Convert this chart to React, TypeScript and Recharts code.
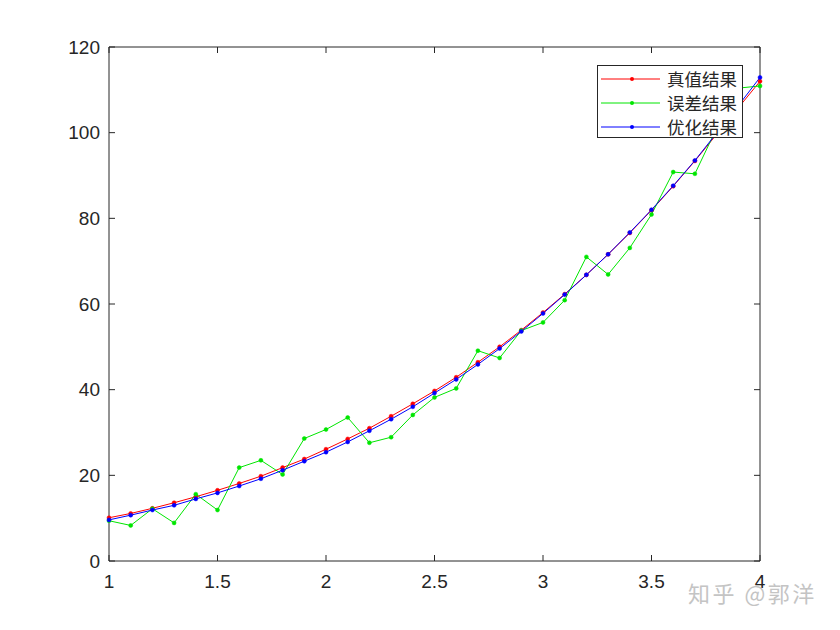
import { Line, LineChart, ReferenceLine, XAxis, YAxis } from "recharts";

const xValues = [
    1.0, 1.1, 1.2, 1.3, 1.4, 1.5, 1.6, 1.7, 1.8, 1.9,
    2.0, 2.1, 2.2, 2.3, 2.4, 2.5, 2.6, 2.7, 2.8, 2.9,
    3.0, 3.1, 3.2, 3.3, 3.4, 3.5, 3.6, 3.7, 3.8, 3.9, 4.0,
];

// 真值结果
const trueValues = [
    10.1, 11.1, 12.3, 13.6, 15.0, 16.5, 18.1, 19.8, 21.8, 23.8,
    26.1, 28.5, 31.0, 33.8, 36.7, 39.7, 42.9, 46.4, 50.0, 53.9,
    58.0, 62.3, 66.8, 71.6, 76.6, 81.9, 87.5, 93.4, 99.6, 105.8, 112.0,
];

// 误差结果
const noisyValues = [
    9.4, 8.3, 12.2, 8.9, 15.6, 11.9, 21.8, 23.5, 20.2, 28.6,
    30.7, 33.5, 27.6, 28.9, 34.1, 38.2, 40.3, 49.1, 47.4, 53.8,
    55.7, 60.9, 71.0, 66.9, 73.1, 80.9, 90.8, 90.4, 101.0, 110.4, 110.9,
];

// 优化结果
const fittedValues = [
    9.6, 10.7, 11.9, 13.0, 14.5, 15.9, 17.5, 19.2, 21.2, 23.3,
    25.4, 27.8, 30.4, 33.1, 36.0, 39.2, 42.4, 45.9, 49.6, 53.6,
    57.8, 62.2, 66.8, 71.6, 76.7, 82.0, 87.6, 93.5, 99.9, 106.3, 112.9,
];

const xTicks = [1, 1.5, 2, 2.5, 3, 3.5, 4];
const yTicks = [0, 20, 40, 60, 80, 100, 120];

const series = [
    { key: "trueV", name: "真值结果", color: "#ff0000" },
    { key: "noisy", name: "误差结果", color: "#00e600" },
    { key: "fitted", name: "优化结果", color: "#0000ff" },
];

const AXIS = "#262626";
const TICK_LEN = 6;
const tickFont = { fill: AXIS, fontSize: 19, fontFamily: "'Liberation Sans', Arial, sans-serif" };

const data = xValues.map((x, i) => ({
    x,
    trueV: trueValues[i],
    noisy: noisyValues[i],
    fitted: fittedValues[i],
}));

// inward tick marks on top and bottom edge of the box
function VerticalTicks(props: any) {
    const { x1, y1, y2 } = props;
    const top = Math.min(y1, y2);
    const bottom = Math.max(y1, y2);
    return (
        <g>
            <line x1={x1} y1={bottom} x2={x1} y2={bottom - TICK_LEN} stroke={AXIS} />
            <line x1={x1} y1={top} x2={x1} y2={top + TICK_LEN} stroke={AXIS} />
        </g>
    );
}

// inward tick marks on left and right edge of the box
function HorizontalTicks(props: any) {
    const { x1, x2, y1 } = props;
    const left = Math.min(x1, x2);
    const right = Math.max(x1, x2);
    return (
        <g>
            <line x1={left} y1={y1} x2={left + TICK_LEN} y2={y1} stroke={AXIS} />
            <line x1={right} y1={y1} x2={right - TICK_LEN} y2={y1} stroke={AXIS} />
        </g>
    );
}

function LegendBox() {
    return (
        <div
            style={{
                position: "absolute",
                left: 597,
                top: 65,
                width: 146,
                height: 73,
                boxSizing: "border-box",
                border: `1px solid ${AXIS}`,
                background: "#fff",
                fontFamily: "'Noto Sans CJK SC', sans-serif",
                fontSize: 17.5,
                color: AXIS,
                paddingTop: 1,
            }}
        >
            {series.map(s => (
                <div key={s.key} style={{ display: "flex", alignItems: "center", height: 24, lineHeight: "24px" }}>
                    <svg width={69} height={24} style={{ flex: "none" }}>
                        <line x1={3} y1={12} x2={62} y2={12} stroke={s.color} strokeWidth={1} />
                        <circle cx={34} cy={12} r={2} fill={s.color} />
                    </svg>
                    <span style={{ whiteSpace: "nowrap" }}>{s.name}</span>
                </div>
            ))}
        </div>
    );
}

export default function App() {
    return (
        <div style={{ position: "absolute", left: 0, top: 0, width: 840, height: 630, background: "#fff" }}>
            <LineChart width={840} height={630} data={data} margin={{ top: 47, right: 80, bottom: 0, left: 0 }}>
                <XAxis
                    dataKey="x"
                    type="number"
                    domain={[1, 4]}
                    ticks={xTicks}
                    height={69}
                    tickSize={0}
                    tickMargin={14}
                    tickLine={false}
                    axisLine={{ stroke: AXIS }}
                    tick={tickFont}
                    interval={0}
                />
                <YAxis
                    type="number"
                    domain={[0, 120]}
                    ticks={yTicks}
                    width={109}
                    tickSize={0}
                    tickMargin={9}
                    tickLine={false}
                    axisLine={{ stroke: AXIS }}
                    tick={tickFont}
                    interval={0}
                />
                {/* top and right edges of the box */}
                <ReferenceLine y={120} stroke={AXIS} />
                <ReferenceLine x={4} stroke={AXIS} />
                {xTicks.map(t => (
                    <ReferenceLine key={`xt${t}`} x={t} stroke={AXIS} shape={VerticalTicks} />
                ))}
                {yTicks.map(t => (
                    <ReferenceLine key={`yt${t}`} y={t} stroke={AXIS} shape={HorizontalTicks} />
                ))}
                {series.map(s => (
                    <Line
                        key={s.key}
                        type="linear"
                        dataKey={s.key}
                        name={s.name}
                        stroke={s.color}
                        strokeWidth={1}
                        dot={{ r: 2, fill: s.color, stroke: s.color, strokeWidth: 0.5 }}
                        activeDot={false}
                        isAnimationActive={false}
                    />
                ))}
            </LineChart>
            <LegendBox />
            <div
                style={{
                    position: "absolute",
                    left: 688,
                    top: 576,
                    fontFamily: "'Noto Sans CJK SC', sans-serif",
                    fontSize: 22,
                    color: "#c4c4c4",
                    letterSpacing: 2.5,
                    whiteSpace: "pre",
                }}
            >
                {"知乎 @郭洋"}
            </div>
        </div>
    );
}
